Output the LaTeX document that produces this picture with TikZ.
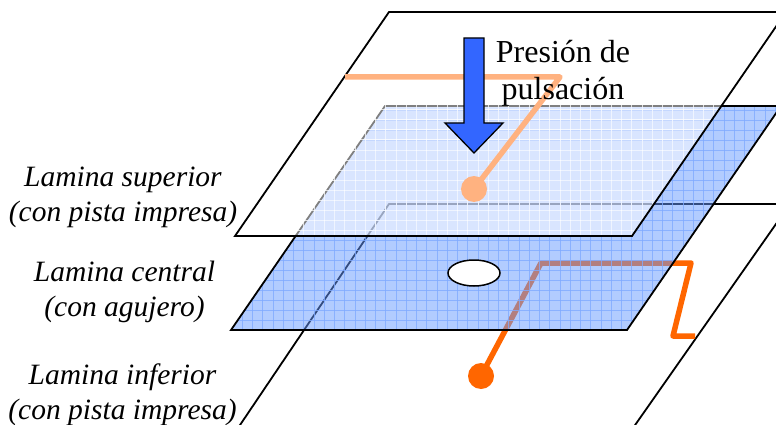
\documentclass[tikz,border=0pt]{standalone}
\usepackage{fontspec}
\usetikzlibrary{shapes.geometric}
\setmainfont{Liberation Serif}
\definecolor{sheetblue}{RGB}{102,153,255}
\definecolor{gridblue}{RGB}{128,170,255}
\definecolor{tracecol}{RGB}{255,102,0}
\definecolor{arrowblue}{RGB}{51,102,255}
\tikzset{
  sheet/.style={draw=black,line width=1.8pt,line join=miter},
  trace/.style={draw=tracecol,line width=5.5pt,line join=round},
  lab/.style={font=\fontsize{29.5}{35}\selectfont\itshape,align=center,inner sep=0pt},
  press/.style={font=\fontsize{32}{37}\selectfont,align=center,inner sep=0pt}
}
\begin{document}
\begin{tikzpicture}[x=1pt,y=-1pt]
\useasboundingbox (0,0) rectangle (776,425);
\begin{scope}
\clip (0,0) rectangle (776,425);
% corners
\coordinate (m1) at (385,106); \coordinate (m2) at (231,330);
\coordinate (m3) at (627,330); \coordinate (m4) at (781,106);
\coordinate (t1) at (389,12); \coordinate (t2) at (235,236);
\coordinate (t3) at (632,236); \coordinate (t4) at (786,12);
% lower sheet
\draw[sheet] (238,428) -- (389,204) -- (790,204) (790,204) -- (633,428);
% lower trace
\coordinate (lc) at (481,376);
\coordinate (l1) at (541,263); \coordinate (l2) at (691,263);
\coordinate (l3) at (673,336); \coordinate (l4) at (695,336);
\draw[trace] (lc) -- (l1) -- (l2) -- (l3) -- (l4);
\node[circle,fill=tracecol,minimum size=26pt,inner sep=0pt] (lowdot) at (lc) {};
% middle sheet
\fill[sheetblue,opacity=.5] (m1) -- (m2) -- (m3) -- (m4) -- cycle;
\begin{scope}
\clip (m1) -- (m2) -- (m3) -- (m4) -- cycle;
\foreach \x in {232,242.25,...,790} \draw[gridblue,line width=.9pt,opacity=.8] (\x,100) -- (\x,335);
\foreach \y in {110,120,...,330} \draw[gridblue,line width=.9pt,opacity=.8] (225,\y) -- (790,\y);
\end{scope}
\draw[sheet] (m1) -- (m2) -- (m3) -- (m4) -- cycle;
\node[ellipse,draw=black,fill=white,line width=1.5pt,minimum width=52pt,minimum height=26pt,inner sep=0pt] (hole) at (474,273) {};
% upper sheet
\fill[white,opacity=.5] (t1) -- (t2) -- (t3) -- (t4) -- cycle;
\begin{scope}
\clip (t1) -- (t2) -- (t3) -- (t4) -- cycle;
\foreach \x in {232,242.25,...,790} \draw[white,line width=1pt,opacity=.75] (\x,100) -- (\x,335);
\foreach \y in {110,120,...,330} \draw[white,line width=1pt,opacity=.75] (225,\y) -- (790,\y);
\end{scope}
\draw[sheet] (t1) -- (t2) -- (t3) -- (t4) -- cycle;
% upper trace
\coordinate (u0) at (345,77); \coordinate (u1) at (560,77); \coordinate (uc) at (474,189);
\draw[draw=tracecol!50!white,line width=5.5pt,line join=round] (u0) -- (u1) -- (uc);
\node[circle,fill=tracecol!50!white,minimum size=26pt,inner sep=0pt] (updot) at (uc) {};
% arrow
\draw[draw=black,fill=arrowblue,line width=1.3pt,line join=miter]
  (464,38) -- (484,38) -- (484,123) -- (503,123) -- (474,153) -- (445,123) -- (464,123) -- cycle;
\end{scope}
\node[press] (p) at (563,73.5) {Presión de\\pulsación};
\node[lab] (a) at (123,197) {Lamina superior\\(con pista impresa)};
\node[lab] (b) at (124.5,292) {Lamina central\\(con agujero)};
\node[lab] (c) at (122.5,394.5) {Lamina inferior\\(con pista impresa)};
\end{tikzpicture}
\end{document}
